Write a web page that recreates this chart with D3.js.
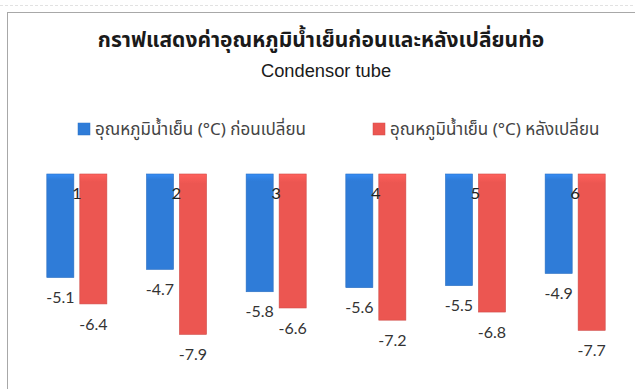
<!DOCTYPE html>
<html>
<head>
<meta charset="utf-8">
<script src="https://cdn.jsdelivr.net/npm/d3@7"></script>
<style>
  html, body { margin: 0; padding: 0; background: #fff; }
  svg { display: block; }
</style>
</head>
<body>
<svg id="chart" width="635" height="389"></svg>
<script>
// Chart data
const categories = ["1", "2", "3", "4", "5", "6"];
const seriesNames = [
  "อุณหภูมิน้ำเย็น (°C) ก่อนเปลี่ยน",
  "อุณหภูมิน้ำเย็น (°C) หลังเปลี่ยน"
];
const beforeValues = [-5.1, -4.7, -5.8, -5.6, -5.5, -4.9];
const afterValues = [-6.4, -7.9, -6.6, -7.2, -6.8, -7.7];
const titleText = "กราฟแสดงค่าอุณหภูมิน้ำเย็นก่อนและหลังเปลี่ยนท่อ";
const subtitleText = "Condensor tube";

const colors = ["#2f7cd8", "#ec5651"];
const strokes = ["#2a6fc2", "#cf4a47"];

const svg = d3.select("#chart");
const thaiFont = "'Noto Sans Thai', 'Noto Sans', 'DejaVu Sans', sans-serif";

// gradients for a lightly bevelled bar look
const defs = svg.append("defs");
colors.forEach((c, i) => {
  const g = defs.append("linearGradient").attr("id", "grad" + i)
    .attr("x1", 0).attr("y1", 0).attr("x2", 0).attr("y2", 1);
  g.append("stop").attr("offset", "0%").attr("stop-color", d3.color(c).brighter(0.35));
  g.append("stop").attr("offset", "6%").attr("stop-color", c);
  g.append("stop").attr("offset", "100%").attr("stop-color", c);
});

// faint line above the frame
svg.append("line").attr("x1", 0).attr("x2", 635).attr("y1", 5.5).attr("y2", 5.5)
  .attr("stroke", "#e2e2e2").attr("stroke-width", 1).attr("stroke-dasharray", "3,2");

// chart frame
svg.append("rect").attr("x", 7.5).attr("y", 12.5).attr("width", 700).attr("height", 450)
  .attr("fill", "#fff").attr("stroke", "#a8a8a8").attr("stroke-width", 1);

// titles
svg.append("text").attr("x", 321).attr("y", 47).attr("text-anchor", "middle")
  .attr("font-family", thaiFont).attr("font-weight", "bold").attr("font-size", 21)
  .attr("fill", "#1a1a1a").text(titleText);
svg.append("text").attr("x", 326).attr("y", 77).attr("text-anchor", "middle")
  .attr("font-family", "'Liberation Sans', Arial, sans-serif").attr("font-size", 18.3)
  .attr("fill", "#1a1a1a").text(subtitleText);

// legend
const legendX = [78, 373];
const legend = svg.append("g");
seriesNames.forEach((name, i) => {
  const g = legend.append("g").attr("transform", `translate(${legendX[i]},123)`);
  g.append("rect").attr("width", 12).attr("height", 12).attr("fill", `url(#grad${i})`)
    .attr("stroke", strokes[i]).attr("stroke-width", 0.5);
  g.append("text").attr("x", 17).attr("y", 11.5).attr("font-family", thaiFont)
    .attr("font-size", 17).attr("fill", "#444").text(name);
});

// scales
const x0 = d3.scaleBand().domain(categories).range([27, 625]).padding(0);
const x1 = d3.scaleBand().domain([0, 1]).range([0, x0.bandwidth()])
  .paddingInner(0.18).paddingOuter(0.6);
const y = d3.scaleLinear().domain([0, -10]).range([174, 377]);

const rows = categories.map((c, i) => ({ cat: c, values: [beforeValues[i], afterValues[i]] }));

const groups = svg.append("g").selectAll("g").data(rows).join("g")
  .attr("transform", d => `translate(${x0(d.cat)},0)`);

groups.selectAll("rect").data(d => d.values.map((v, i) => ({ v, i }))).join("rect")
  .attr("x", d => x1(d.i))
  .attr("y", y(0))
  .attr("width", x1.bandwidth())
  .attr("height", d => y(d.v) - y(0))
  .attr("fill", d => `url(#grad${d.i})`)
  .attr("stroke", d => strokes[d.i]).attr("stroke-width", 0.6);

// value labels below each bar
groups.selectAll("text.val").data(d => d.values.map((v, i) => ({ v, i }))).join("text")
  .attr("class", "val")
  .attr("x", d => x1(d.i) + x1.bandwidth() / 2)
  .attr("y", d => y(d.v) + 20)
  .attr("dy", "0.35em")
  .attr("text-anchor", "middle")
  .attr("font-family", "Lato, 'Open Sans', sans-serif").attr("font-size", 16)
  .attr("fill", "#333")
  .text(d => d3.format(".1f")(d.v).replace("−", "-"));

// category axis labels at the zero line
const xAxis = d3.axisBottom(x0).tickSize(0).tickPadding(0);
const axisG = svg.append("g").attr("transform", `translate(0,${y(0) + 19})`).call(xAxis);
axisG.select(".domain").remove();
axisG.selectAll("text").attr("font-family", "Lato, 'Open Sans', sans-serif")
  .attr("font-size", 16).attr("fill", "#222").attr("dy", "0.35em").attr("y", 0);
</script>
</body>
</html>
